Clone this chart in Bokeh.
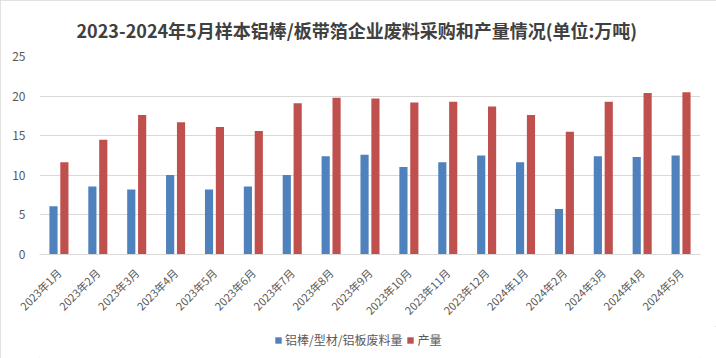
from math import pi
from bokeh.plotting import figure
from bokeh.layouts import column
from bokeh.models import ColumnDataSource, Range1d, FactorRange, Legend, LegendItem, Title
from bokeh.transform import dodge
from bokeh.embed import file_html
from bokeh.resources import INLINE

months = ["2023年1月", "2023年2月", "2023年3月", "2023年4月", "2023年5月", "2023年6月",
          "2023年7月", "2023年8月", "2023年9月", "2023年10月", "2023年11月", "2023年12月",
          "2024年1月", "2024年2月", "2024年3月", "2024年4月", "2024年5月"]
scrap = [6.1, 8.6, 8.2, 10.05, 8.2, 8.6, 10.05, 12.4, 12.6, 11.05, 11.65, 12.5,
         11.65, 5.75, 12.4, 12.3, 12.5]
output = [11.65, 14.5, 17.6, 16.7, 16.1, 15.6, 19.1, 19.8, 19.7, 19.2, 19.3, 18.7,
          17.6, 15.5, 19.3, 20.4, 20.5]
series_names = ["铝棒/型材/铝板废料量", "产量"]
title_text = "2023-2024年5月样本铝棒/板带箔企业废料采购和产量情况(单位:万吨)"

FONT = "Noto Sans CJK SC"
TXT = "#595959"
BLUE = "#4F81BD"
RED = "#C0504D"

src = ColumnDataSource(dict(month=months, scrap=scrap, output=output))

p = figure(width=716, height=326, x_range=FactorRange(*months), y_range=Range1d(0, 25),
           output_backend="svg", toolbar_location=None, title=None,
           min_border_left=39, min_border_right=16, min_border_top=52, min_border_bottom=72)
p.outline_line_color = None
p.background_fill_color = "white"
p.border_fill_color = "white"

p.vbar(x=dodge("month", -0.14, range=p.x_range), top="scrap", width=0.21,
       source=src, color=BLUE, line_color=None)
p.vbar(x=dodge("month", 0.14, range=p.x_range), top="output", width=0.21,
       source=src, color=RED, line_color=None)

p.xgrid.grid_line_color = None
p.ygrid.grid_line_color = "#d9d9d9"
p.ygrid.grid_line_width = 1

p.yaxis.ticker = [0, 5, 10, 15, 20, 25]
p.yaxis.axis_line_color = None
p.yaxis.major_tick_line_color = None
p.yaxis.minor_tick_line_color = None
p.yaxis.major_label_text_font = FONT
p.yaxis.major_label_text_font_size = "12px"
p.yaxis.major_label_text_color = TXT
p.yaxis.major_label_standoff = 8

p.xaxis.axis_line_color = "#d9d9d9"
p.xaxis.major_tick_line_color = None
p.xaxis.minor_tick_line_color = None
p.xaxis.major_label_orientation = pi / 4
p.xaxis.major_label_text_font = FONT
p.xaxis.major_label_text_font_size = "11px"
p.xaxis.major_label_text_color = TXT
p.xaxis.major_label_standoff = 10

title = Title(text=title_text, align="left", offset=37, standoff=28,
              text_font=FONT, text_font_size="18px", text_font_style="bold",
              text_color="#404040")
p.add_layout(title, "above")

# legend strip (its frame is aligned with the main frame by the column layout)
q = figure(width=716, height=32, x_range=Range1d(0, 1), y_range=Range1d(0, 1),
           output_backend="svg", toolbar_location=None,
           x_axis_location=None, y_axis_location=None,
           min_border_left=39, min_border_right=16, min_border_top=0, min_border_bottom=0)
q.grid.visible = False
q.outline_line_color = None
q.background_fill_color = "white"
q.border_fill_color = "white"
dummy = ColumnDataSource(dict(x=[-10.0], top=[-10.0]))
l1 = q.vbar(x="x", top="top", width=0.1, source=dummy, color=BLUE, line_color=None)
l2 = q.vbar(x="x", top="top", width=0.1, source=dummy, color=RED, line_color=None)
legend = Legend(items=[LegendItem(label=series_names[0], renderers=[l1]),
                       LegendItem(label=series_names[1], renderers=[l2])],
                orientation="horizontal", location=(235, 10),
                glyph_width=8, glyph_height=8, label_height=16, label_standoff=3,
                spacing=4, padding=0, margin=0,
                label_text_font=FONT, label_text_font_size="12px", label_text_color=TXT,
                background_fill_alpha=0, border_line_color=None)
q.add_layout(legend, "center")

layout = column(p, q, spacing=0)
layout.styles = {"outline": "1px solid #d9d9d9", "outline-offset": "-1px"}
open("out.html", "w").write(file_html(layout, INLINE))
